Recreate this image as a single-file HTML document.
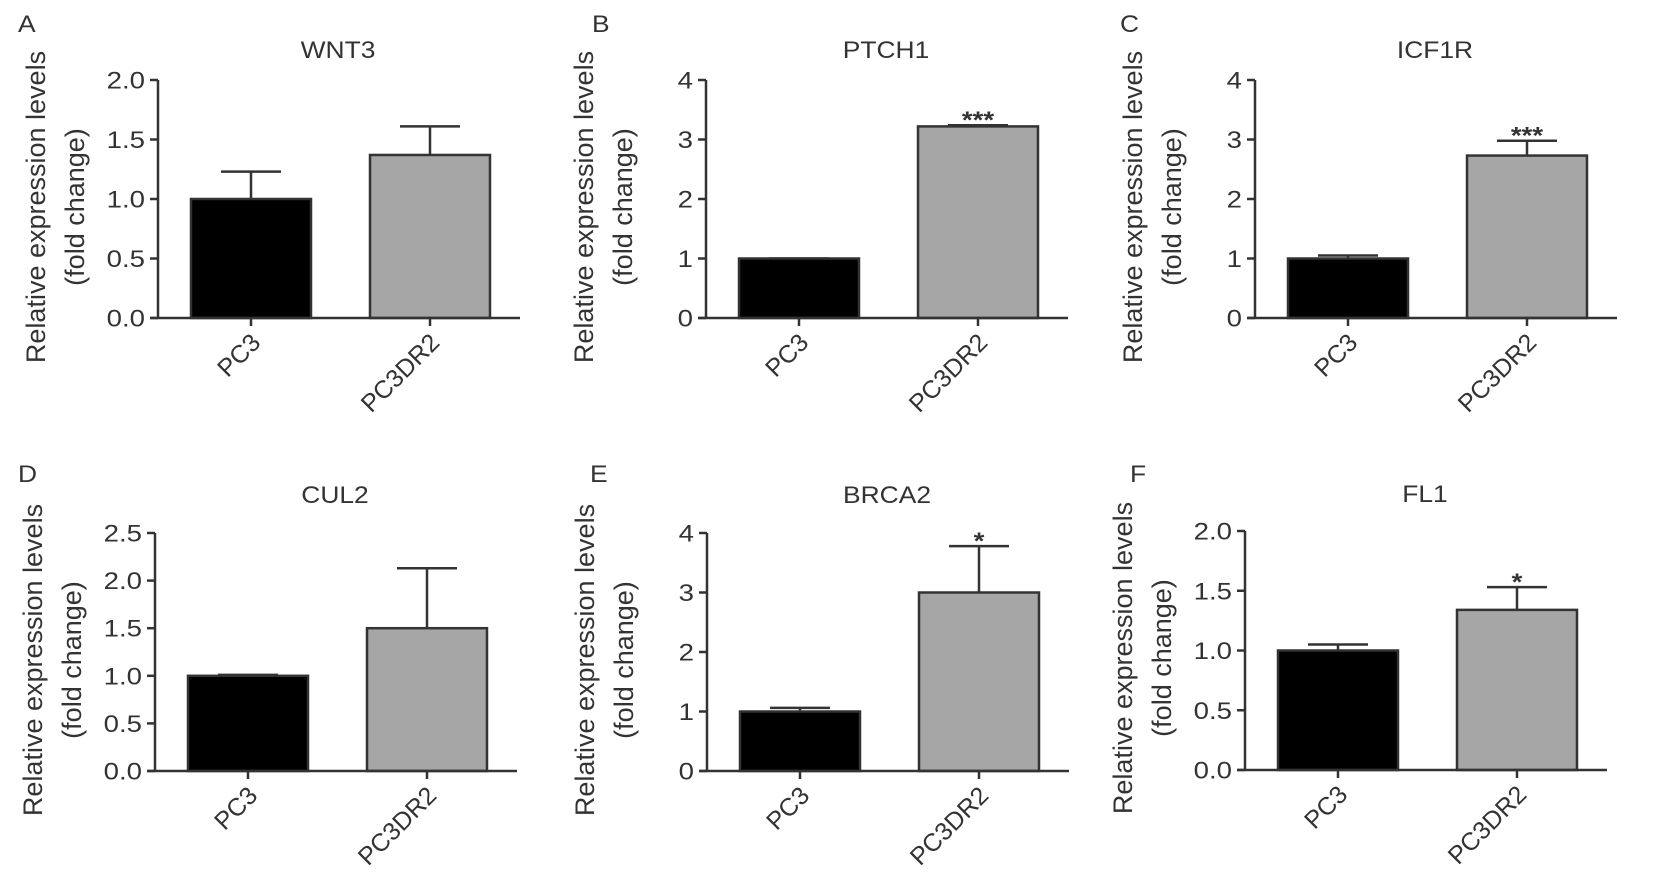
<!DOCTYPE html>
<html><head><meta charset="utf-8"><style>
html,body{margin:0;padding:0;background:#fff}
svg{display:block;font-family:"Liberation Sans",Arial,sans-serif}
</style></head><body>
<svg id="fig" width="1654" height="886" viewBox="0 0 1654 886" xmlns="http://www.w3.org/2000/svg"></svg>
<script>
const categories = ["PC3", "PC3DR2"];
const panelLetters = ["A", "B", "C", "D", "E", "F"];
const panelTitles = ["WNT3", "PTCH1", "ICF1R", "CUL2", "BRCA2", "FL1"];
const meanA = [1.0, 1.37];  const errA = [0.23, 0.24];
const meanB = [1.0, 3.22];  const errB = [0.0, 0.02];
const meanC = [1.0, 2.73];  const errC = [0.05, 0.25];
const meanD = [1.0, 1.5];   const errD = [0.01, 0.63];
const meanE = [1.0, 3.0];   const errE = [0.06, 0.78];
const meanF = [1.0, 1.34];  const errF = [0.05, 0.19];
const sigA = ["", ""]; const sigB = ["", "***"]; const sigC = ["", "***"];
const sigD = ["", ""]; const sigE = ["", "*"];   const sigF = ["", "*"];
const ticksA = [0, 0.5, 1.0, 1.5, 2.0];
const ticksB = [0, 1, 2, 3, 4];
const ticksC = [0, 1, 2, 3, 4];
const ticksD = [0, 0.5, 1.0, 1.5, 2.0, 2.5];
const ticksE = [0, 1, 2, 3, 4];
const ticksF = [0, 0.5, 1.0, 1.5, 2.0];
const tickDecimalsA = 1, tickDecimalsB = 0, tickDecimalsC = 0, tickDecimalsD = 1, tickDecimalsE = 0, tickDecimalsF = 1;

const NS = "http://www.w3.org/2000/svg";
const svg = document.getElementById("fig");
function mk(tag, attrs, parent) {
  const e = document.createElementNS(NS, tag);
  for (const k in attrs) e.setAttribute(k, attrs[k]);
  (parent || svg).appendChild(e);
  return e;
}
const layout = [
  {ax:158, top:80, zero:318, lx:18, ly:32, tb:58},
  {ax:706, top:80, zero:318, lx:592, ly:32, tb:58},
  {ax:1255, top:80, zero:318, lx:1120, ly:32, tb:58},
  {ax:155, top:533, zero:771, lx:18, ly:482, tb:503},
  {ax:707, top:533, zero:771, lx:590, ly:482, tb:503},
  {ax:1245, top:531, zero:770, lx:1130, ly:482, tb:502}
];
const means = [meanA, meanB, meanC, meanD, meanE, meanF];
const errs = [errA, errB, errC, errD, errE, errF];
const sigs = [sigA, sigB, sigC, sigD, sigE, sigF];
const ticks = [ticksA, ticksB, ticksC, ticksD, ticksE, ticksF];
const decs = [tickDecimalsA, tickDecimalsB, tickDecimalsC, tickDecimalsD, tickDecimalsE, tickDecimalsF];
const ink = "#333";

layout.forEach((L, p) => {
  const g = mk("g", {});
  
  
  const tk = ticks[p];
  const ymax = tk[tk.length - 1];
  const y = v => L.zero - (v / ymax) * (L.zero - L.top);
  const xC = i => L.ax + 93 + i * 179;
  const bw = 120;

  const letter = mk("text", {x:0, y:0, "font-size":24, fill:ink, transform:`translate(${L.lx} ${L.ly}) scale(1.1 1)`}, g);
  letter.textContent = panelLetters[p];
  
  

  const title = mk("text", {x:0, y:0, "font-size":24, fill:ink, "text-anchor":"middle", transform:`translate(${L.ax + 180} ${L.tb}) scale(1.1 1)`}, g);
  title.textContent = panelTitles[p];
  
  

  means[p].forEach((v, i) => {
    const x0 = xC(i) - bw / 2;
    const ey = y(v + errs[p][i]);
    const eb = mk("line", {x1:xC(i), x2:xC(i), y1:y(v), y2:ey, stroke:ink, "stroke-width":2.5}, g);
    
    
    const cap = mk("line", {x1:xC(i) - 30, x2:xC(i) + 30, y1:ey, y2:ey, stroke:ink, "stroke-width":2.5}, g);
    
    
    const r = mk("rect", {x:x0, y:y(v), width:bw, height:L.zero - y(v), fill: i === 0 ? "#000" : "#a6a6a6", stroke:ink, "stroke-width":2.5}, g);
    
    
    if (sigs[p][i]) {
      const s = mk("text", {x:0, y:0, "font-size":24, "font-weight":"bold", fill:ink, "text-anchor":"middle", transform:`translate(${xC(i)} ${ey + 3}) scale(1.15 1)`}, g);
      s.textContent = sigs[p][i];
      
      
    }
  });

  const ya = mk("line", {x1:L.ax, x2:L.ax, y1:L.top, y2:L.zero, stroke:ink, "stroke-width":2.5}, g);
  
  
  const xa = mk("line", {x1:L.ax - 8, x2:L.ax + 362, y1:L.zero, y2:L.zero, stroke:ink, "stroke-width":2.5}, g);
  
  

  tk.forEach(t => {
    const tl = mk("line", {x1:L.ax - 8, x2:L.ax, y1:y(t), y2:y(t), stroke:ink, "stroke-width":2.5}, g);
    
    
    const tx = mk("text", {x:0, y:0, "font-size":24, fill:ink, "text-anchor":"end", transform:`translate(${L.ax - 13} ${y(t) + 8.5}) scale(1.15 1)`}, g);
    tx.textContent = t.toFixed(decs[p]);
    
    
  });

  categories.forEach((c, i) => {
    const tl = mk("line", {x1:xC(i), x2:xC(i), y1:L.zero, y2:L.zero + 8, stroke:ink, "stroke-width":2.5}, g);
    
    
    const ax = xC(i) + 11, ay = L.zero + 26;
    const tx = mk("text", {x:ax, y:ay, "font-size":25, fill:ink, "text-anchor":"end", transform:`rotate(-45 ${ax} ${ay})`}, g);
    tx.textContent = c;
    
    
  });

  const cy = L.top + 127;
  const t1x = L.ax - 113, t2x = L.ax - 74;
  const yt1 = mk("text", {x:t1x, y:cy, "font-size":27, fill:ink, "text-anchor":"middle", transform:`rotate(-90 ${t1x} ${cy})`}, g);
  yt1.textContent = "Relative expression levels";
  
  
  const yt2 = mk("text", {x:t2x, y:cy, "font-size":27, fill:ink, "text-anchor":"middle", transform:`rotate(-90 ${t2x} ${cy})`}, g);
  yt2.textContent = "(fold change)";
  
  
});
</script>
</body></html>
